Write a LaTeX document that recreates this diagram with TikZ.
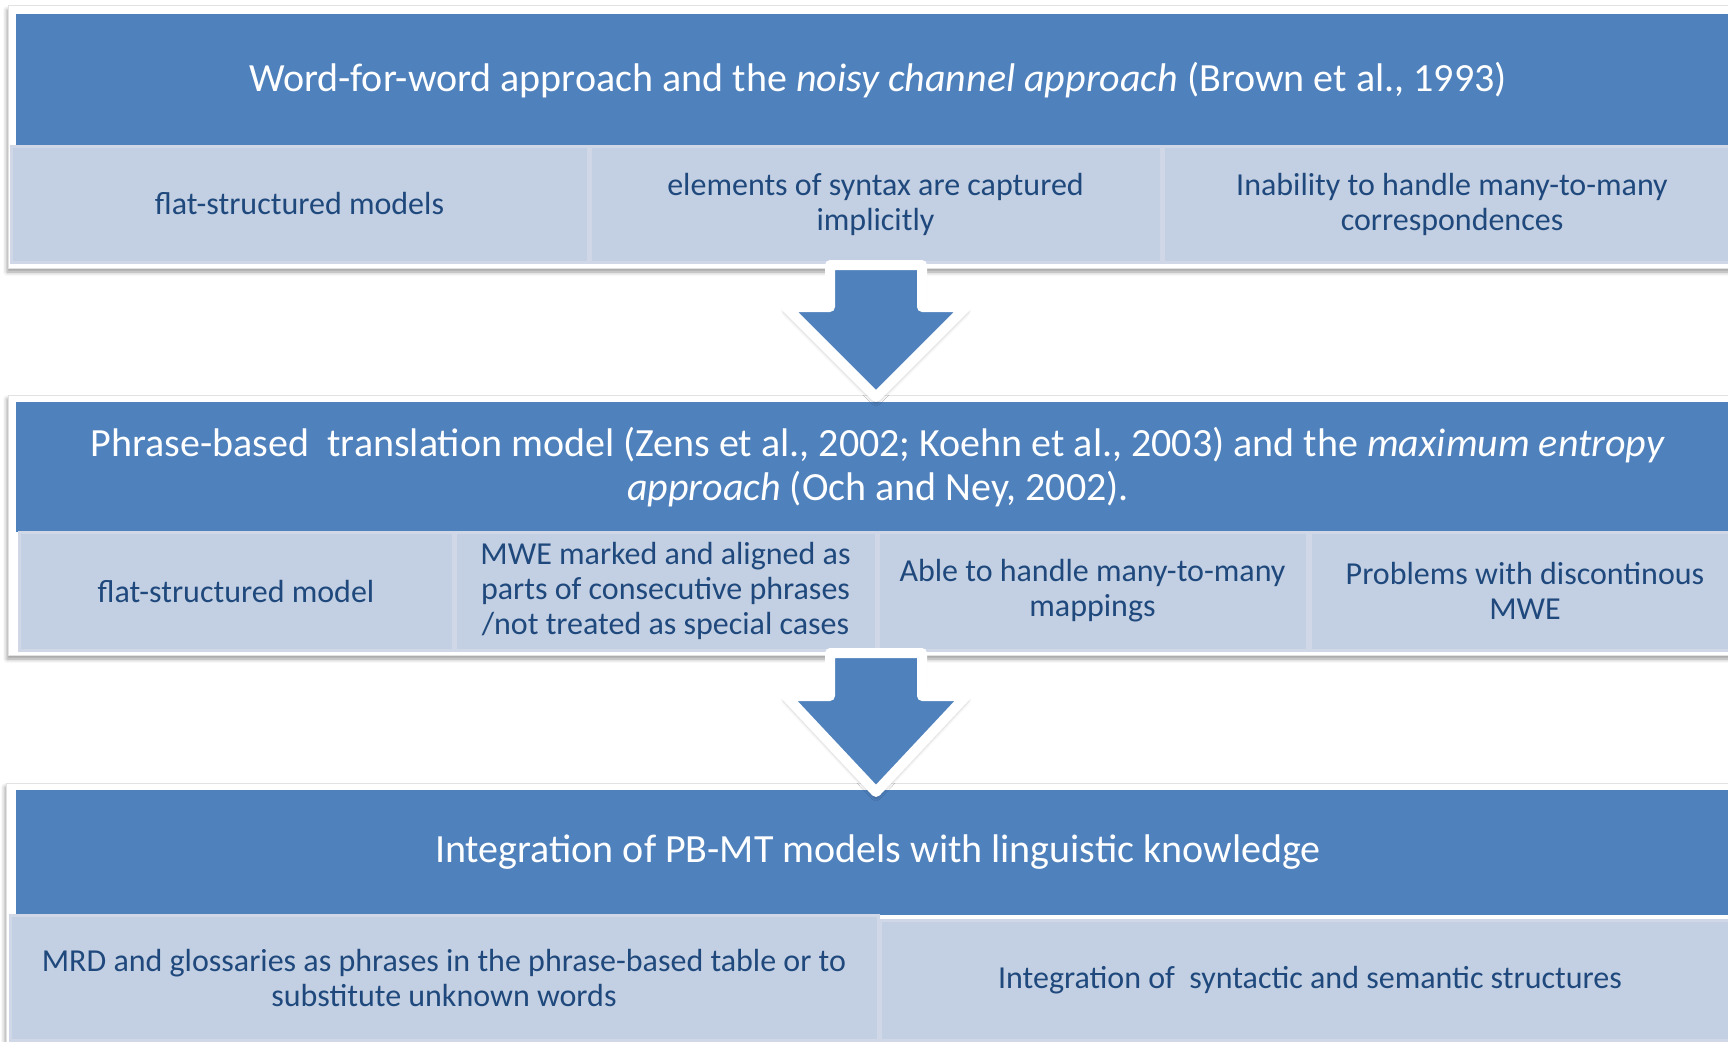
\documentclass[tikz,border=0pt]{standalone}
\usepackage{fontspec}
\setmainfont{Carlito}
\usetikzlibrary{calc}
\usetikzlibrary{shadows.blur}

\definecolor{hdblue}{RGB}{79,129,189}
\definecolor{cellblue}{RGB}{195,207,226}
\definecolor{cellrim}{RGB}{208,216,232}
\definecolor{txtblue}{RGB}{31,73,125}
\definecolor{framegray}{RGB}{226,226,226}

\tikzset{
  panel/.style={rectangle, fill=white, draw=framegray, line width=1, inner sep=0,
    blur shadow={shadow xshift=-1pt, shadow yshift=-4pt, shadow blur radius=4pt, shadow opacity=40}},
  header/.style={rectangle, fill=hdblue, text=white, inner sep=0, align=center,
    font=\fontsize{40}{44}\selectfont},
  cell/.style={rectangle, fill=cellblue, draw=cellrim, line width=3, text=txtblue,
    inner sep=0, align=center, font=\fontsize{32}{35}\selectfont},
  flowarrow/.style={fill=hdblue, draw=white, line width=10, line join=round,
    blur shadow={shadow xshift=0pt, shadow yshift=-4pt, shadow blur radius=5pt, shadow opacity=50}},
}

% block arrow: #1 shaft top, #2 depth of the head base, #3 tip
\newcommand{\stagearrow}[3]{%
  \draw[flowarrow] ($(#1)+(-46,0)$) -- ($(#1)+(-46,#2)$) -- ($(#1)+(-90,#2)$) -- (#3)
    -- ($(#1)+(90,#2)$) -- ($(#1)+(46,#2)$) -- ($(#1)+(46,0)$) -- cycle;}

\begin{document}
\begin{tikzpicture}[x=1pt, y=-1pt]
\useasboundingbox (0,0) rectangle (1728,1041);
\clip (0,0) rectangle (1728,1041);

%top stage
\node[panel, minimum width=1732, minimum height=262] (p1) at (874,137) {};
\node[header, minimum width=1724, minimum height=132] (h1) at (878,80)
  {Word-for-word approach and the \textit{noisy channel approach} (Brown et al., 1993)};
\node[cell, minimum width=577, minimum height=116] (c11) at (299.5,204) {flat-structured models};
\node[cell, minimum width=571, minimum height=116] (c12) at (875.5,204) {elements of syntax are captured\\implicitly};
\node[cell, minimum width=578, minimum height=116] (c13) at (1452,204) {Inability to handle many-to-many\\correspondences};

%middle stage
\node[panel, minimum width=1732, minimum height=260] (p2) at (874,525) {};
\node[header, minimum width=1724, minimum height=130] (h2) at (878,467)
  {Phrase-based\ \ translation model (Zens et al., 2002; Koehn et al., 2003) and the \textit{maximum entropy}\\
   \textit{approach} (Och and Ney, 2002).};
\node[cell, minimum width=434, minimum height=118] (c21) at (236,591) {flat-structured model};
\node[cell, minimum width=421, minimum height=118] (c22) at (665.5,591) {MWE marked and aligned as\\parts of consecutive phrases\\/not treated as special cases};
\node[cell, minimum width=429, minimum height=118] (c23) at (1092.5,591) {Able to handle many-to-many\\mappings};
\node[cell, minimum width=430, minimum height=118] (c24) at (1525,591) {Problems with discontinous\\MWE};

%bottom stage
\node[panel, minimum width=1734, minimum height=267] (p3) at (873,916.5) {};
\node[header, minimum width=1724, minimum height=125] (h3) at (878,852.5)
  {Integration of PB-MT models with linguistic knowledge};
\node[cell, minimum width=868, minimum height=125] (c31) at (444,977.5) {MRD and glossaries as phrases in the phrase-based table or to\\substitute unknown words};
\node[cell, minimum width=860, minimum height=120] (c32) at (1310,980) {Integration of\ \ syntactic and semantic structures};

%arrows between stages
\coordinate (a1) at (876,265);
\coordinate (t1) at (876,397);
\coordinate (a2) at (876,653);
\coordinate (t2) at (876,792);
\stagearrow{a1}{42}{t1}
\stagearrow{a2}{43}{t2}
\end{tikzpicture}
\end{document}
